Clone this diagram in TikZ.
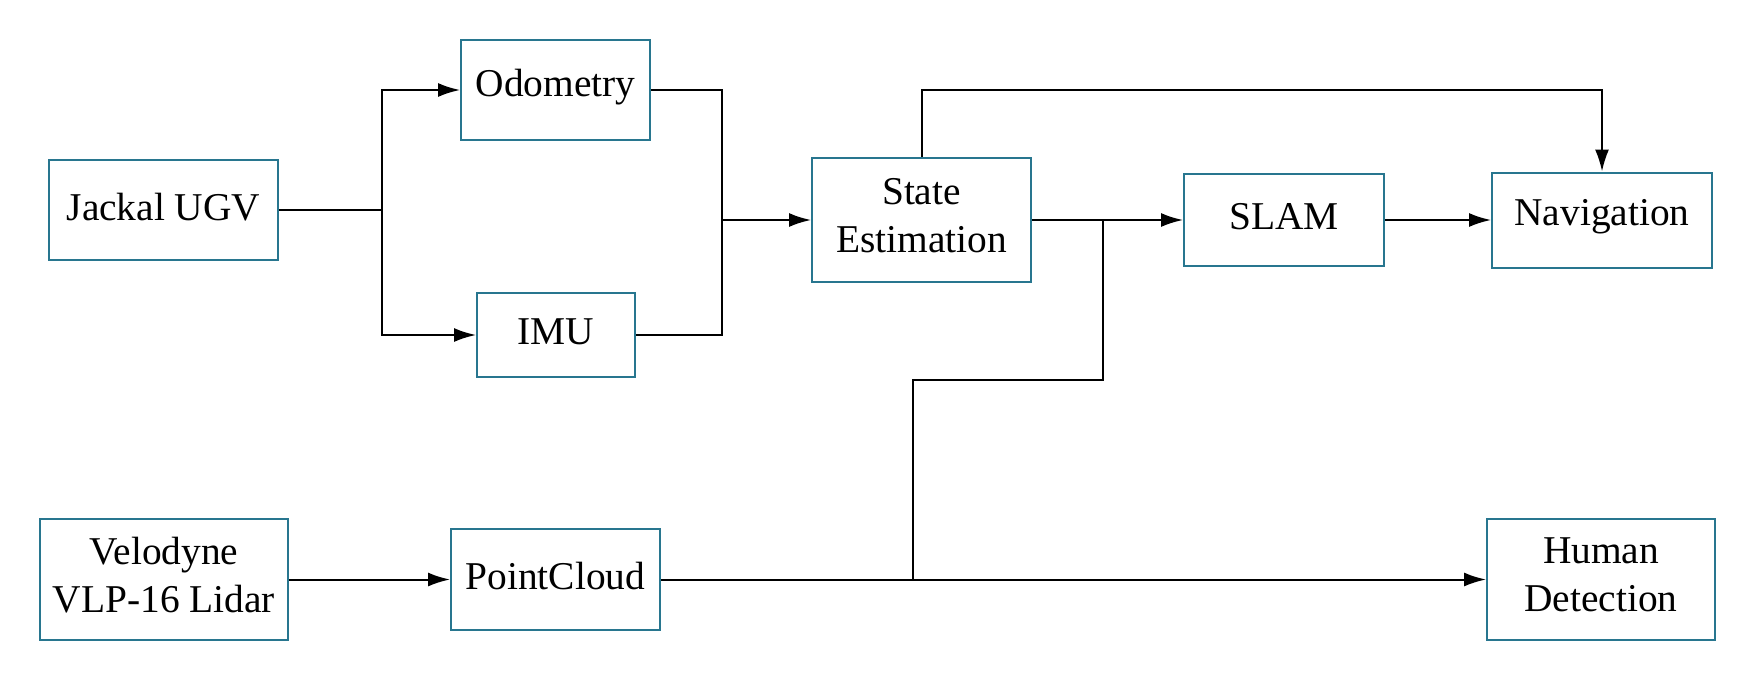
\documentclass[tikz,border=0pt]{standalone}
\usepackage{fontspec}
\setmainfont{Liberation Serif}
\usetikzlibrary{arrows.meta}
\definecolor{boxc}{RGB}{40,118,143}
\tikzset{
  blk/.style={draw=boxc, line width=1pt, inner sep=0pt},
  lbl/.style={inner sep=0pt, align=center, yshift=1.6pt,
    font=\fontsize{19.7}{24}\selectfont, text=black},
  wire/.style={line width=1pt, draw=black},
  arr/.style={wire, -{Latex[length=11pt,width=7pt]}}
}
\begin{document}
\begin{tikzpicture}[x=0.5pt,y=-0.5pt]
\useasboundingbox (0,0) rectangle (1756,680);
\fill[white] (0,0) rectangle (1756,680);
% nodes
\node[blk, minimum width=114.5pt, minimum height=50pt, label={[lbl]center:Jackal UGV}] (jackal) at (163.5,210) {};
\node[blk, minimum width=94.5pt, minimum height=50pt, label={[lbl]center:Odometry}] (odom) at (555.5,90) {};
\node[blk, minimum width=79pt, minimum height=42pt, label={[lbl]center:IMU}] (imu) at (556,335) {};
\node[blk, minimum width=109.5pt, minimum height=62pt, label={[lbl,yshift=0.6pt]center:State\\Estimation}] (state) at (921.5,220) {};
\node[blk, minimum width=100pt, minimum height=46pt, label={[lbl]center:SLAM}] (slam) at (1284,220) {};
\node[blk, minimum width=110pt, minimum height=47.5pt, label={[lbl]center:Navigation}] (nav) at (1602,220) {};
\node[blk, minimum width=124pt, minimum height=60.5pt, label={[lbl,yshift=0.6pt]center:Velodyne\\VLP-16 Lidar}] (velo) at (164,579.5) {};
\node[blk, minimum width=104.5pt, minimum height=50.5pt, label={[lbl]center:PointCloud}] (pc) at (555.5,579.5) {};
\node[blk, minimum width=114pt, minimum height=60.5pt, label={[lbl,yshift=0.6pt]center:Human\\Detection}] (human) at (1601,579.5) {};
% helper coordinates
\coordinate (b1) at (382,210);
\coordinate (m1) at (722,220);
\coordinate (top) at (0,90);
\coordinate (j) at (1103,220);
\coordinate (mid) at (0,380);
\coordinate (k) at (913,579.5);
% connectors
\draw[wire] (jackal.east) -- (b1);
\draw[arr] (b1) |- (odom.west);
\draw[arr] (b1) |- (imu.west);
\draw[wire] (odom.east) -| (m1) |- (imu.east);
\draw[arr] (m1) -- (state.west);
\draw[arr] (state.north) -- (state.north |- top) -| (nav.north);
\draw[arr] (state.east) -- (slam.west);
\draw[arr] (slam.east) -- (nav.west);
\draw[wire] (j) -- (j |- mid) -| (k);
\draw[arr] (velo.east) -- (pc.west);
\draw[arr] (pc.east) -- (human.west);
\end{tikzpicture}
\end{document}
